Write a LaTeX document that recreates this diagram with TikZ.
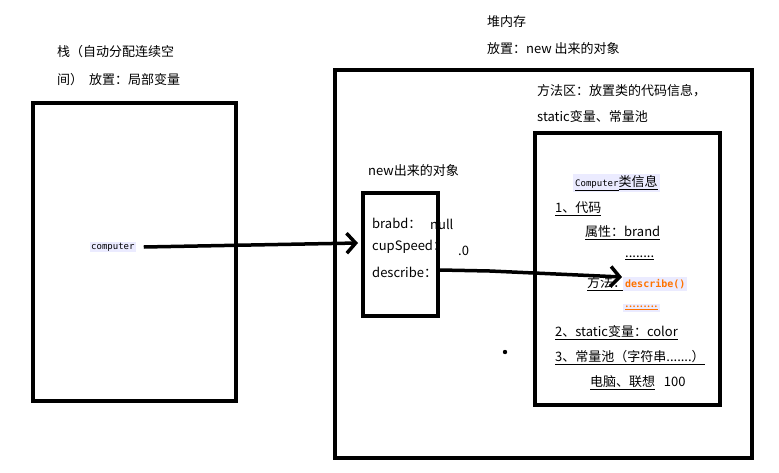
\documentclass[tikz,border=0pt]{standalone}
\usepackage{fontspec}
\setmainfont{Noto Sans CJK SC}
\newfontfamily\monof{DejaVu Sans Mono}
\usetikzlibrary{arrows.meta}
\begin{document}
\begin{tikzpicture}[x=1pt,y=-1pt,
  box/.style={draw,line width=3.5pt},
  t/.style={anchor=west,inner sep=0pt,font=\fontsize{13}{15}\selectfont},
  arr/.style={line width=3.5pt,-{Straight Barb[length=9pt,width=20pt,line width=3.5pt]}}]
\useasboundingbox[fill=white] (0,0) rectangle (779,472);
\draw[box] (33,103) rectangle (236,401);
\draw[box] (335,70) rectangle (752,458);
\draw[box] (363,193) rectangle (438,316);
\draw[box] (535,133) rectangle (720,405);
\node[t] (s1) at (57,52) {栈（自动分配连续空};
\node[t] (s2) at (57,80) {间）\ \ 放置：局部变量};
\node[t] (h1) at (487,22) {堆内存};
\node[t] (h2) at (487,49) {放置：new 出来的对象};
\node[t] (m1) at (537,91) {方法区：放置类的代码信息，};
\node[t] (m2) at (537,117) {static变量、常量池};
\node[t] (o0) at (368,171) {new出来的对象};
\node[t,fill=blue!8,inner sep=1pt,font=\monof\fontsize{9}{10}\selectfont] (comp) at (90,247) {computer};
\node[t] (o1) at (372,223) {brabd：};
\node[t] (o1v) at (430,224) {null};
\node[t] (o2) at (372,247) {cupSpeed：};
\node[t] (o2v) at (458,251) {.0};
\node[t] (o3) at (372,272) {describe：};
\coordinate (o3e) at (440,270);
\node[t,fill=blue!8,inner sep=2pt] (ci) at (573,183) {\underline{\monof\fontsize{9}{10}\selectfont Computer}\underline{类信息}};
\node[t] (c1) at (555,209) {\underline{1、代码}};
\node[t] (c2) at (585,233) {\underline{属性：brand}};
\node[t] (c3) at (625,258) {\underline{........}};
\node[t] (c4) at (587,284) {\underline{方法：}};
\node[t,fill=blue!8,inner sep=2pt,text=orange!90!red,font=\monof\bfseries\fontsize{10}{11}\selectfont] (c4v) at (623,284) {describe()};
\node[t,fill=blue!8,inner sep=2pt,text=orange!90!red] (c5) at (623,308) {\underline{.........}};
\node[t] (c6) at (555,333) {\underline{2、static变量：color}};
\node[t] (c7) at (555,358) {\underline{3、常量池（字符串.......）}};
\node[t] (c8) at (590,383) {\underline{电脑、联想}\ \ \ 100};
\fill (505,352) circle (2.2pt);
\coordinate (arrowA) at (358,243);
\draw[arr] (comp.east) ++(8,0) -- (arrowA);
\coordinate (arrowB) at (622,277);
\draw[arr] (o3e) -- (490,271) -- (arrowB);
\end{tikzpicture}
\end{document}
